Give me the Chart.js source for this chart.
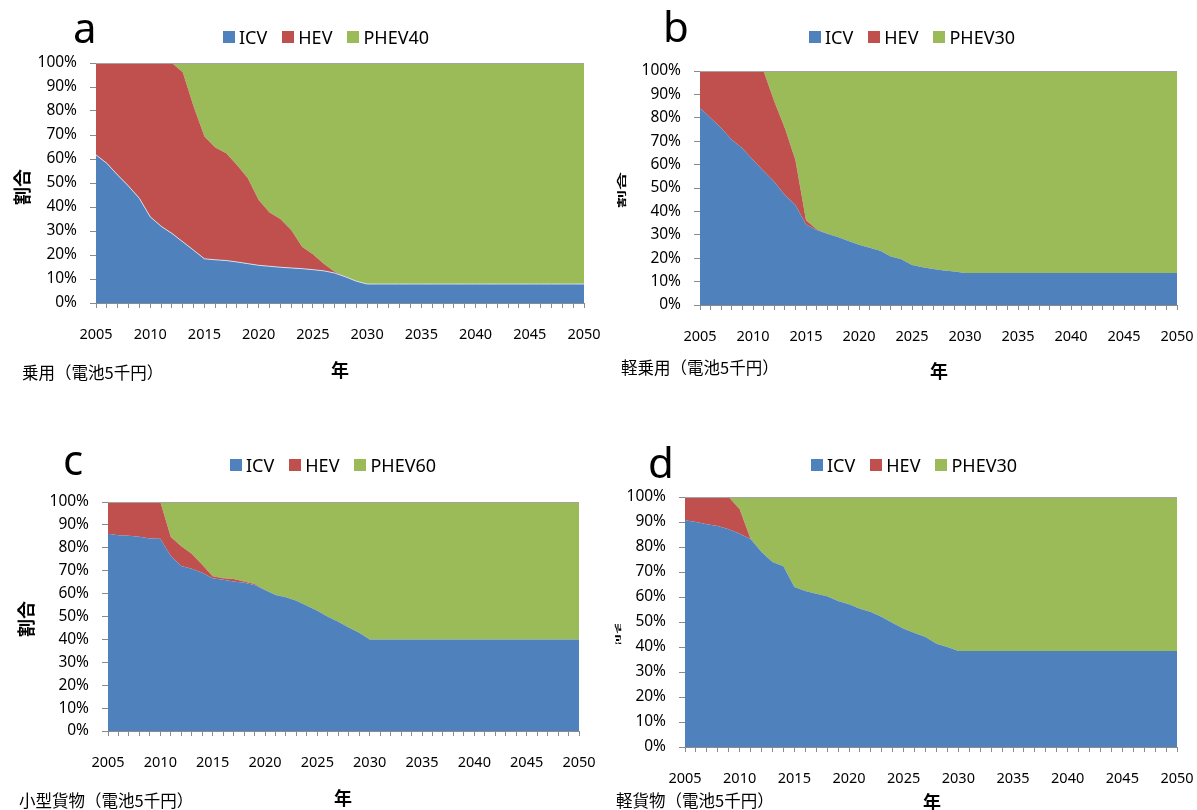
<!DOCTYPE html>
<html lang="ja">
<head>
<meta charset="utf-8">
<title>車種別 パワートレイン構成比 2005-2050</title>
<script src="https://cdn.jsdelivr.net/npm/chart.js@4/dist/chart.umd.min.js"></script>
<style>
  html, body { margin: 0; padding: 0; background: #fff; width: 1197px; height: 810px; overflow: hidden; }
  canvas.panel { position: absolute; left: 0; top: 0; }
  .txt { position: absolute; white-space: nowrap; line-height: 1; color: #000; }
  .latin { font-family: 'Noto Sans', sans-serif; }
  .cjk { font-family: 'Noto Sans CJK JP', sans-serif; }
  .legend { position: absolute; display: flex; align-items: center; height: 20px;
            font-family: 'Noto Sans', sans-serif; font-size: 18px; line-height: 1; white-space: nowrap; }
  .legend .item { display: flex; align-items: center; margin-right: 15px; }
  .legend .sw { width: 12px; height: 12px; margin-right: 4px; display: inline-block; }
</style>
</head>
<body>
<canvas id="chartA" class="panel" width="1240" height="830"></canvas>
<canvas id="chartB" class="panel" width="1240" height="830"></canvas>
<canvas id="chartC" class="panel" width="1240" height="830"></canvas>
<canvas id="chartD" class="panel" width="1240" height="830"></canvas>
<div id="labels"></div>
<script>
// ---- data: share of new vehicles by powertrain (%) ----
const YEARS = [
  2005, 2006, 2007, 2008, 2009, 2010, 2011, 2012, 2013, 2014,
  2015, 2016, 2017, 2018, 2019, 2020, 2021, 2022, 2023, 2024,
  2025, 2026, 2027, 2028, 2029, 2030, 2031, 2032, 2033, 2034,
  2035, 2036, 2037, 2038, 2039, 2040, 2041, 2042, 2043, 2044,
  2045, 2046, 2047, 2048, 2049, 2050
];

// a: 乗用
const ICV_A = [
  61.7, 58.2, 53.3, 48.7, 43.6, 35.9, 32.0, 29.0, 25.5, 22.0,
  18.4, 18.0, 17.7, 17.1, 16.4, 15.7, 15.3, 14.9, 14.6, 14.3,
  13.9, 13.4, 12.5, 10.9, 9.1, 7.9, 7.9, 7.9, 7.9, 7.9,
  7.9, 7.9, 7.9, 7.9, 7.9, 7.9, 7.9, 7.9, 7.9, 7.9,
  7.9, 7.9, 7.9, 7.9, 7.9, 7.9
];
const HEV_A = [
  38.3, 41.8, 46.7, 51.3, 56.4, 64.1, 68.0, 71.0, 70.6, 59.9,
  51.0, 46.8, 44.7, 40.4, 35.6, 27.2, 22.4, 20.1, 15.8, 9.1,
  6.4, 3.0, 0.5, 0, 0, 0, 0, 0, 0, 0,
  0, 0, 0, 0, 0, 0, 0, 0, 0, 0,
  0, 0, 0, 0, 0, 0
];
const PHEV_A = [
  0, 0, 0, 0, 0, 0, 0, 0, 3.9, 18.1,
  30.6, 35.2, 37.6, 42.5, 48.0, 57.1, 62.3, 65.0, 69.6, 76.6,
  79.7, 83.6, 87.0, 89.1, 90.9, 92.1, 92.1, 92.1, 92.1, 92.1,
  92.1, 92.1, 92.1, 92.1, 92.1, 92.1, 92.1, 92.1, 92.1, 92.1,
  92.1, 92.1, 92.1, 92.1, 92.1, 92.1
];

// b: 軽乗用
const ICV_B = [
  84.2, 79.9, 75.6, 70.6, 67.0, 62.0, 57.3, 52.7, 47.0, 42.7,
  34.4, 32.0, 30.5, 29.1, 27.4, 25.8, 24.5, 23.2, 20.7, 19.5,
  17.1, 16.1, 15.4, 14.7, 14.3, 13.7, 13.7, 13.7, 13.7, 13.7,
  13.7, 13.7, 13.7, 13.7, 13.7, 13.7, 13.7, 13.7, 13.7, 13.7,
  13.7, 13.7, 13.7, 13.7, 13.7, 13.7
];
const HEV_B = [
  15.8, 20.1, 24.4, 29.4, 33.0, 38.0, 42.7, 34.4, 28.6, 19.3,
  1.8, 0.4, 0, 0, 0, 0, 0, 0, 0, 0,
  0, 0, 0, 0, 0, 0, 0, 0, 0, 0,
  0, 0, 0, 0, 0, 0, 0, 0, 0, 0,
  0, 0, 0, 0, 0, 0
];
const PHEV_B = [
  0, 0, 0, 0, 0, 0, 0, 12.9, 24.4, 38.0,
  63.8, 67.6, 69.5, 70.9, 72.6, 74.2, 75.5, 76.8, 79.3, 80.5,
  82.9, 83.9, 84.6, 85.3, 85.7, 86.3, 86.3, 86.3, 86.3, 86.3,
  86.3, 86.3, 86.3, 86.3, 86.3, 86.3, 86.3, 86.3, 86.3, 86.3,
  86.3, 86.3, 86.3, 86.3, 86.3, 86.3
];

// c: 小型貨物
const ICV_C = [
  86.1, 85.5, 85.3, 84.8, 84.1, 83.9, 76.4, 72.0, 70.8, 69.1,
  66.7, 66.0, 65.3, 64.7, 63.8, 61.6, 59.4, 58.4, 56.9, 54.7,
  52.5, 49.9, 47.7, 45.2, 42.9, 40.0, 40.0, 40.0, 40.0, 40.0,
  40.0, 40.0, 40.0, 40.0, 40.0, 40.0, 40.0, 40.0, 40.0, 40.0,
  40.0, 40.0, 40.0, 40.0, 40.0, 40.0
];
const HEV_C = [
  13.9, 14.5, 14.7, 15.2, 15.9, 16.1, 8.3, 8.7, 6.6, 3.5,
  0.9, 0.7, 1.1, 0.6, 0.4, 0, 0, 0, 0, 0,
  0, 0, 0, 0, 0, 0, 0, 0, 0, 0,
  0, 0, 0, 0, 0, 0, 0, 0, 0, 0,
  0, 0, 0, 0, 0, 0
];
const PHEV_C = [
  0, 0, 0, 0, 0, 0, 15.3, 19.3, 22.6, 27.4,
  32.4, 33.3, 33.6, 34.7, 35.8, 38.4, 40.6, 41.6, 43.1, 45.3,
  47.5, 50.1, 52.3, 54.8, 57.1, 60.0, 60.0, 60.0, 60.0, 60.0,
  60.0, 60.0, 60.0, 60.0, 60.0, 60.0, 60.0, 60.0, 60.0, 60.0,
  60.0, 60.0, 60.0, 60.0, 60.0, 60.0
];

// d: 軽貨物
const ICV_D = [
  90.7, 90.0, 89.1, 88.4, 87.1, 85.3, 83.2, 78.0, 74.0, 72.3,
  64.0, 62.4, 61.3, 60.3, 58.4, 57.1, 55.3, 54.0, 52.0, 49.6,
  47.3, 45.6, 44.0, 41.3, 40.0, 38.4, 38.4, 38.4, 38.4, 38.4,
  38.4, 38.4, 38.4, 38.4, 38.4, 38.4, 38.4, 38.4, 38.4, 38.4,
  38.4, 38.4, 38.4, 38.4, 38.4, 38.4
];
const HEV_D = [
  9.3, 10.0, 10.9, 11.6, 12.9, 9.8, 0, 0, 0, 0,
  0, 0, 0, 0, 0, 0, 0, 0, 0, 0,
  0, 0, 0, 0, 0, 0, 0, 0, 0, 0,
  0, 0, 0, 0, 0, 0, 0, 0, 0, 0,
  0, 0, 0, 0, 0, 0
];
const PHEV_D = [
  0, 0, 0, 0, 0, 4.9, 16.8, 22.0, 26.0, 27.7,
  36.0, 37.6, 38.7, 39.7, 41.6, 42.9, 44.7, 46.0, 48.0, 50.4,
  52.7, 54.4, 56.0, 58.7, 60.0, 61.6, 61.6, 61.6, 61.6, 61.6,
  61.6, 61.6, 61.6, 61.6, 61.6, 61.6, 61.6, 61.6, 61.6, 61.6,
  61.6, 61.6, 61.6, 61.6, 61.6, 61.6
];

const NAMES_A = ['ICV', 'HEV', 'PHEV40'];
const NAMES_B = ['ICV', 'HEV', 'PHEV30'];
const NAMES_C = ['ICV', 'HEV', 'PHEV60'];
const NAMES_D = ['ICV', 'HEV', 'PHEV30'];

// ---- styling ----
const COLORS = ['#4F81BD', '#C0504D', '#9BBB59'];
const AXIS_GRAY = '#8a8a8a';
const CANVAS_W = 1240, CANVAS_H = 830;
const Y_AXIS_W = 70, X_AXIS_H = 45;

Chart.defaults.font.family = "'Noto Sans', sans-serif";
Chart.defaults.color = '#000';

// thin gray frame line along the top of the plot area
const plotTopEdge = {
  id: 'plotTopEdge',
  afterDraw(chart) {
    const { ctx, chartArea: a } = chart;
    ctx.save();
    ctx.strokeStyle = '#a3a3a3';
    ctx.lineWidth = 1;
    ctx.beginPath();
    const y = Math.floor(a.top) + 0.5;
    ctx.moveTo(a.left, y);
    ctx.lineTo(a.right, y);
    ctx.stroke();
    ctx.restore();
  }
};

function makePanel(canvasId, area, series, names, seam) {
  const datasets = series.map((values, i) => ({
    label: names[i],
    data: values,
    backgroundColor: COLORS[i],
    borderColor: (i === 0 && seam) ? seam : 'rgba(0,0,0,0)',
    borderWidth: (i === 0 && seam) ? 1 : 0,
    fill: i === 0 ? 'origin' : '-1',
    pointRadius: 0,
    pointHoverRadius: 0,
    tension: 0
  }));
  return new Chart(document.getElementById(canvasId), {
    type: 'line',
    data: { labels: YEARS, datasets },
    options: {
      responsive: false,
      animation: false,
      events: [],
      layout: {
        padding: {
          left: area.left - Y_AXIS_W,
          top: area.top,
          right: CANVAS_W - area.right,
          bottom: CANVAS_H - area.bottom - X_AXIS_H
        }
      },
      plugins: { legend: { display: false }, tooltip: { enabled: false } },
      scales: {
        x: {
          type: 'category',
          offset: false,
          z: 1,
          grid: { drawOnChartArea: false, drawTicks: true, tickLength: 5, color: AXIS_GRAY },
          border: { color: AXIS_GRAY, width: 1 },
          ticks: {
            autoSkip: false, maxRotation: 0, minRotation: 0, padding: 18,
            font: { size: 14.5 },
            callback: (v, i) => (YEARS[i] % 5 === 0 ? String(YEARS[i]) : '')
          },
          afterFit: s => { s.height = X_AXIS_H; }
        },
        y: {
          stacked: true,
          min: 0, max: 100,
          z: 1,
          grid: { drawOnChartArea: false, drawTicks: true, tickLength: 6, color: AXIS_GRAY },
          border: { color: AXIS_GRAY, width: 1 },
          ticks: { stepSize: 10, padding: 13, font: { size: 15.5 }, callback: v => v + '%' },
          afterFit: s => { s.width = Y_AXIS_W; }
        }
      }
    },
    plugins: [plotTopEdge]
  });
}

makePanel('chartA', { left: 96, top: 63, right: 584, bottom: 303 }, [ICV_A, HEV_A, PHEV_A], NAMES_A, 'rgba(225,232,245,0.85)');
makePanel('chartB', { left: 700, top: 71, right: 1177, bottom: 305 }, [ICV_B, HEV_B, PHEV_B], NAMES_B, null);
makePanel('chartC', { left: 108, top: 502, right: 579, bottom: 731 }, [ICV_C, HEV_C, PHEV_C], NAMES_C, null);
makePanel('chartD', { left: 685, top: 497, right: 1177, bottom: 747 }, [ICV_D, HEV_D, PHEV_D], NAMES_D, null);

// ---- surrounding text: legends, panel letters, captions, axis titles ----
const host = document.getElementById('labels');

function addLegend(names, left, centerY) {
  const box = document.createElement('div');
  box.className = 'legend';
  box.style.left = left + 'px';
  box.style.top = (centerY - 10) + 'px';
  names.forEach((n, i) => {
    const item = document.createElement('span');
    item.className = 'item';
    const sw = document.createElement('span');
    sw.className = 'sw';
    sw.style.background = COLORS[i];
    const tx = document.createElement('span');
    tx.textContent = n;
    item.appendChild(sw);
    item.appendChild(tx);
    box.appendChild(item);
  });
  host.appendChild(box);
}

function addText(text, cls, x, y, size, opts = {}) {
  const d = document.createElement('div');
  d.className = 'txt ' + cls;
  d.textContent = text;
  d.style.fontSize = size + 'px';
  if (opts.bold) d.style.fontWeight = '700';
  d.style.left = x + 'px';
  d.style.top = y + 'px';
  d.style.transform = opts.transform || 'translateY(-50%)';
  host.appendChild(d);
  return d;
}

addLegend(NAMES_A, 223, 37);
addLegend(NAMES_B, 809, 37);
addLegend(NAMES_C, 230, 465);
addLegend(NAMES_D, 811, 465);

// panel letters
addText('a', 'latin', 73, 27, 42);
addText('b', 'latin', 663, 26, 42);
addText('c', 'latin', 63, 459, 42);
addText('d', 'latin', 648, 462, 42);

// captions
addText('乗用（電池5千円）', 'cjk', 22, 372, 16.5);
addText('軽乗用（電池5千円）', 'cjk', 621, 367, 16.5);
addText('小型貨物（電池5千円）', 'cjk', 19, 800, 16.5);
addText('軽貨物（電池5千円）', 'cjk', 616, 800, 16.5);

// x-axis titles
addText('年', 'cjk', 340, 369, 18, { bold: true, transform: 'translate(-50%,-50%)' });
addText('年', 'cjk', 939, 370, 18, { bold: true, transform: 'translate(-50%,-50%)' });
addText('年', 'cjk', 343, 797, 18, { bold: true, transform: 'translate(-50%,-50%)' });
addText('年', 'cjk', 932, 801, 18, { bold: true, transform: 'translate(-50%,-50%)' });

// y-axis titles
addText('割合', 'cjk', 21, 187, 18, { bold: true, transform: 'translate(-50%,-50%) rotate(-90deg)' });
addText('割合', 'cjk', 621, 190, 18, { bold: true, transform: 'translate(-50%,-50%) scale(0.5,1) rotate(-90deg)' });
addText('割合', 'cjk', 25, 619, 18, { bold: true, transform: 'translate(-50%,-50%) rotate(-90deg)' });

// panel d: the y title is squeezed against the tick labels; only a sliver shows
const clip = document.createElement('div');
clip.style.cssText = 'position:absolute;left:614px;top:624px;width:8px;height:20px;overflow:hidden;';
host.appendChild(clip);
const sliver = document.createElement('div');
sliver.className = 'txt cjk';
sliver.textContent = '割合';
sliver.style.cssText += 'font-size:18px;font-weight:700;left:4px;top:10px;transform:translate(-50%,-50%) scale(0.3,1) rotate(-90deg);';
clip.appendChild(sliver);
</script>
</body>
</html>
